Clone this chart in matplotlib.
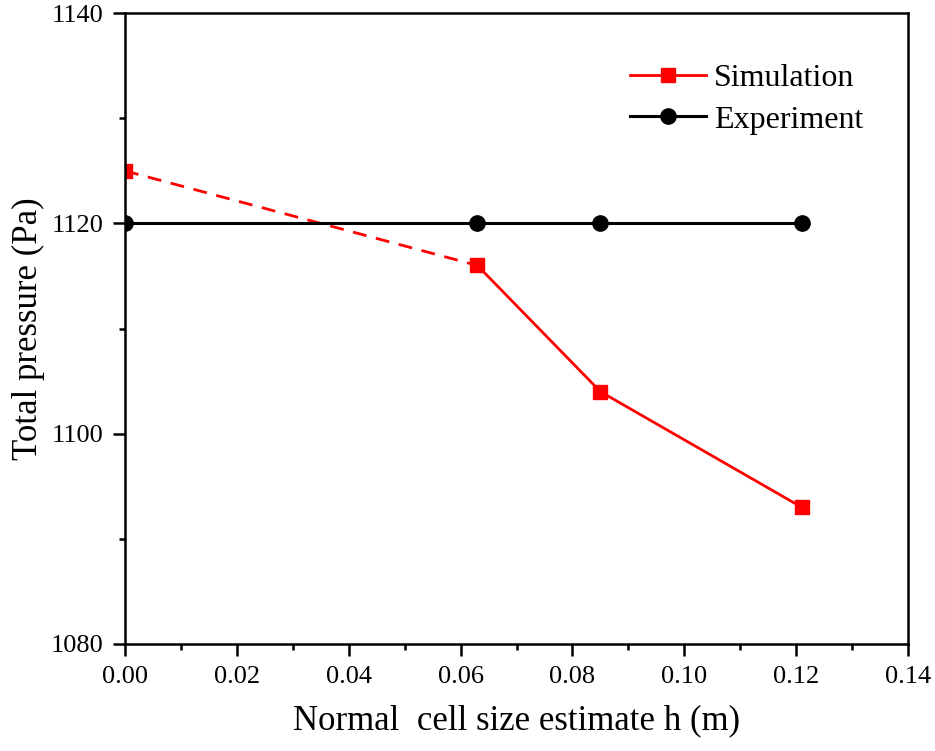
import matplotlib
matplotlib.use("Agg")
import matplotlib.pyplot as plt
from matplotlib.ticker import MultipleLocator

# Данные
h_extrap = [0.0, 0.063]
p_extrap = [1125, 1116]
h_sim = [0.063, 0.085, 0.121]
p_sim = [1116, 1104, 1093]
h_exp = [0.0, 0.063, 0.085, 0.121]
p_exp = [1120, 1120, 1120, 1120]

plt.rcParams['font.family'] = ['Liberation Serif', 'DejaVu Serif']
plt.rcParams['xtick.labelsize'] = 19
plt.rcParams['ytick.labelsize'] = 19

fig = plt.figure(figsize=(9.35, 7.51), dpi=100)
ax = fig.add_axes([0.1337, 0.1425, 0.8375, 0.840])

# Экстраполяция пунктиром
ax.plot(h_extrap, p_extrap, color='red', lw=2, ls=(0, (5, 3.5)))
ax.plot(h_extrap[:1], p_extrap[:1], color='red', marker='s', ms=9.5, ls='none')
ax.plot(h_sim, p_sim, color='red', lw=2, marker='s', ms=9.5, label='Simulation')
ax.plot(h_exp, p_exp, color='black', lw=2.2, marker='o', ms=11, label='Experiment')

ax.set_xlim(0, 0.14)
ax.set_ylim(1080, 1140)
ax.xaxis.set_major_locator(MultipleLocator(0.02))
ax.xaxis.set_minor_locator(MultipleLocator(0.01))
ax.yaxis.set_major_locator(MultipleLocator(20))
ax.yaxis.set_minor_locator(MultipleLocator(10))
ax.xaxis.set_major_formatter(plt.FormatStrFormatter('%.2f'))

for s in ax.spines.values():
    s.set_linewidth(1.8)
ax.tick_params(which='major', direction='out', length=8.5, width=1.8, pad=7)
ax.tick_params(which='minor', direction='out', length=4.5, width=1.8)
ax.tick_params(top=False, right=False, which='both')

ax.set_xlabel('Normal  cell size estimate h (m)', fontsize=25, labelpad=12)
ax.set_ylabel('Total pressure (Pa)', fontsize=25, labelpad=4)

leg = ax.legend(loc='upper right', bbox_to_anchor=(0.98, 0.965), frameon=False,
                fontsize=23, handlelength=2.4, handletextpad=0.25, labelspacing=0.37)

plt.savefig("out.png", dpi=100)
